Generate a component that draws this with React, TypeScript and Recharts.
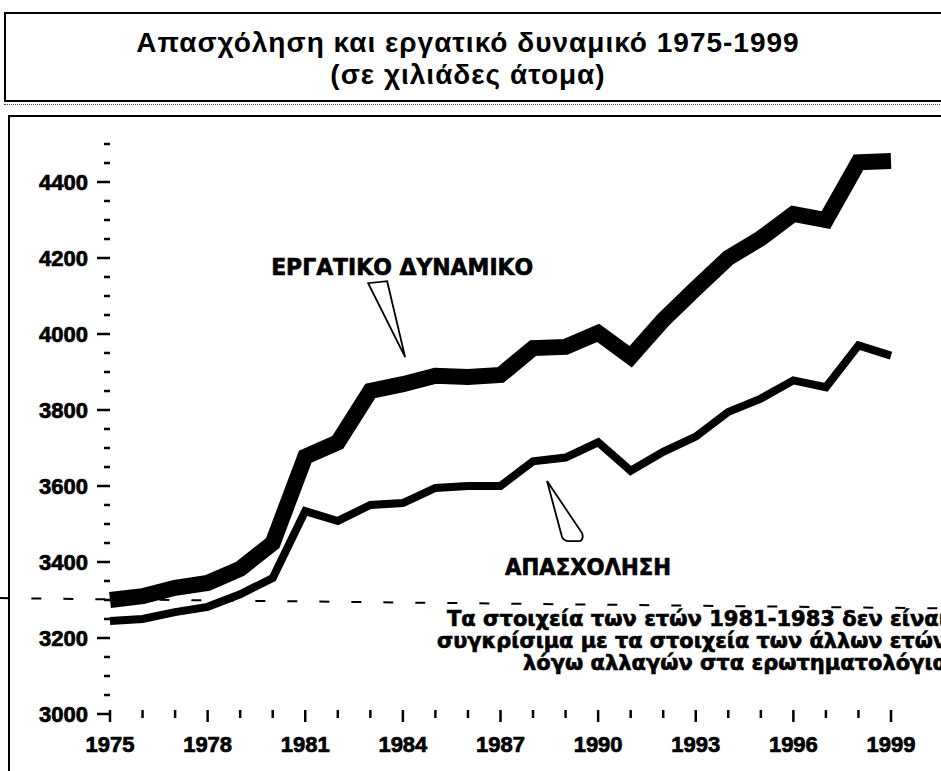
import { LineChart, Line, XAxis, YAxis, ReferenceLine, ReferenceDot } from "recharts";

// Greece, employment and labour force 1975-1999 (thousands of persons)
const years = [
  1975, 1976, 1977, 1978, 1979, 1980, 1981, 1982, 1983, 1984, 1985, 1986, 1987,
  1988, 1989, 1990, 1991, 1992, 1993, 1994, 1995, 1996, 1997, 1998, 1999,
];
const laborForce = [
  3300, 3310, 3332, 3345, 3382, 3450, 3677, 3715, 3850, 3868, 3890, 3887, 3892,
  3963, 3966, 4003, 3940, 4037, 4120, 4200, 4252, 4316, 4300, 4452, 4455,
];
const employment = [
  3245, 3250, 3268, 3282, 3315, 3358, 3534, 3508, 3550, 3555, 3595, 3600, 3600,
  3665, 3675, 3715, 3640, 3690, 3730, 3795, 3830, 3878, 3860, 3970, 3943,
];

const yearLabels = [1975, 1978, 1981, 1984, 1987, 1990, 1993, 1996, 1999];
const valueTicks = [
  3000, 3050, 3100, 3150, 3200, 3250, 3300, 3350, 3400, 3450, 3500, 3550, 3600,
  3650, 3700, 3750, 3800, 3850, 3900, 3950, 4000, 4050, 4100, 4150, 4200, 4250,
  4300, 4350, 4400, 4450, 4500,
];
const valueLabels = [3000, 3200, 3400, 3600, 3800, 4000, 4200, 4400];

const titleLines = ["Απασχόληση και εργατικό δυναμικό 1975-1999", "(σε χιλιάδες άτομα)"];
const laborLabel = "ΕΡΓΑΤΙΚΟ ΔΥΝΑΜΙΚΟ";
const employmentLabel = "ΑΠΑΣΧΟΛΗΣΗ";
const noteLines = [
  "Τα στοιχεία των ετών 1981-1983 δεν είναι",
  "συγκρίσιμα με τα στοιχεία των άλλων ετών",
  "λόγω αλλαγών στα ερωτηματολόγια",
];

const data = years.map((year, i) => ({ year, labor: laborForce[i], employed: employment[i] }));

const tickFont = "'Liberation Sans', Arial, sans-serif";
const narrowFont = "'Liberation Sans Narrow', 'DejaVu Sans Condensed', 'Liberation Sans', sans-serif";

const YTick = (props: any) => {
  const { x, y, payload } = props;
  const major = valueLabels.includes(payload.value);
  return (
    <g>
      <line x1={major ? x - 13 : x - 6} x2={x} y1={y} y2={y} stroke="#000" strokeWidth={2.5} />
      {major && (
        <text x={x - 22} y={y + 8} textAnchor="end" fontFamily={tickFont} fontWeight="bold" fontSize={22}
          fill="#000" stroke="#000" strokeWidth={0.7}>
          {payload.value}
        </text>
      )}
    </g>
  );
};

const XTick = (props: any) => {
  const { x, y, payload } = props;
  const major = yearLabels.includes(payload.value);
  return (
    <g>
      <line x1={x} x2={x} y1={y - 4} y2={major ? y + 8 : y + 4} stroke="#000" strokeWidth={2.5} />
      {major && (
        <text x={x} y={y + 38} textAnchor="middle" fontFamily={tickFont} fontWeight="bold" fontSize={22}
          fill="#000" stroke="#000" strokeWidth={0.7}>
          {payload.value}
        </text>
      )}
    </g>
  );
};

const LaborCallout = (props: any) => {
  const { cx, cy } = props;
  return (
    <g>
      <polygon
        points={`${cx},${cy} ${cx - 37},${cy - 74} ${cx - 18},${cy - 76}`}
        fill="#fff"
        stroke="#000"
        strokeWidth={1.8}
      />
      <text x={cx - 3} y={cy - 82} textAnchor="middle" fontFamily={narrowFont} fontWeight="bold" fontSize={23}
        textLength={262} lengthAdjust="spacingAndGlyphs" fill="#000" stroke="#000" strokeWidth={0.6}>
        {laborLabel}
      </text>
    </g>
  );
};

const EmploymentCallout = (props: any) => {
  const { cx, cy } = props;
  return (
    <g>
      <path
        d={`M${cx},${cy} L${cx + 15},${cy + 56} Q${cx + 17},${cy + 60} ${cx + 22},${cy + 60} L${cx + 33},${cy + 60} Q${cx + 37},${cy + 58} ${cx + 35},${cy + 52} Z`}
        fill="#fff"
        stroke="#000"
        strokeWidth={1.8}
      />
      <text x={cx + 41} y={cy + 94} textAnchor="middle" fontFamily={narrowFont} fontWeight="bold" fontSize={23}
        textLength={166} lengthAdjust="spacingAndGlyphs" fill="#000" stroke="#000" strokeWidth={0.6}>
        {employmentLabel}
      </text>
    </g>
  );
};

const noteWidths = [500, 510, 424];

export default function App() {
  return (
    <div style={{ position: "absolute", left: 0, top: 0, width: 941, height: 771, overflow: "hidden", background: "#fff" }}>
      {/* title box */}
      <div style={{ position: "absolute", left: 4, top: 12, width: 960, height: 86, border: "2px solid #000" }} />
      <div style={{ position: "absolute", left: 0, top: 27, width: 936, textAlign: "center", fontFamily: tickFont, fontWeight: "bold", fontSize: 28, letterSpacing: 1, lineHeight: "32px", color: "#000" }}>
        <div>{titleLines[0]}</div>
        <div>{titleLines[1]}</div>
      </div>
      <div style={{ position: "absolute", left: 4, top: 104, width: 940, borderTop: "1px dotted #444" }} />
      {/* chart frame */}
      <div style={{ position: "absolute", left: 8, top: 115, width: 960, height: 700, borderLeft: "2px solid #000", borderTop: "2px solid #000" }} />

      <div style={{ position: "absolute", left: 0, top: 0 }}>
        <LineChart width={941} height={771} data={data} margin={{ top: 144, right: 50, bottom: 7, left: 10 }}>
          <XAxis
            dataKey="year"
            type="number"
            domain={[1975, 1999]}
            ticks={years}
            interval={0}
            axisLine={false}
            tickLine={false}
            tickSize={0}
            tickMargin={0}
            height={50}
            tick={<XTick />}
          />
          <YAxis
            type="number"
            domain={[3000, 4500]}
            ticks={valueTicks}
            interval={0}
            axisLine={false}
            tickLine={false}
            tickSize={0}
            tickMargin={0}
            width={100}
            tick={<YTick />}
          />
          <ReferenceLine
            segment={[{ x: 1971.6, y: 3305 }, { x: 2000.5, y: 3278 }]}
            ifOverflow="visible"
            stroke="#000"
            strokeWidth={2}
            strokeDasharray="10 22"
          />
          <Line type="linear" dataKey="labor" stroke="#000" strokeWidth={16} dot={false} isAnimationActive={false} />
          <Line type="linear" dataKey="employed" stroke="#000" strokeWidth={8} dot={false} isAnimationActive={false} />
          <ReferenceDot x={1984.07} y={3939} r={0} shape={<LaborCallout />} />
          <ReferenceDot x={1988.43} y={3613} r={0} shape={<EmploymentCallout />} />
        </LineChart>
      </div>

      {/* note about 1981-1983 */}
      <svg width={941} height={771} style={{ position: "absolute", left: 0, top: 0, pointerEvents: "none" }}>
        {noteLines.map((line, i) => (
          <text key={i} x={947} y={626 + i * 22} textAnchor="end" fontFamily={narrowFont} fontWeight="bold" fontSize={21}
            textLength={noteWidths[i]} lengthAdjust="spacingAndGlyphs" fill="#000" stroke="#000" strokeWidth={0.6}>
            {line}
          </text>
        ))}
      </svg>
    </div>
  );
}
